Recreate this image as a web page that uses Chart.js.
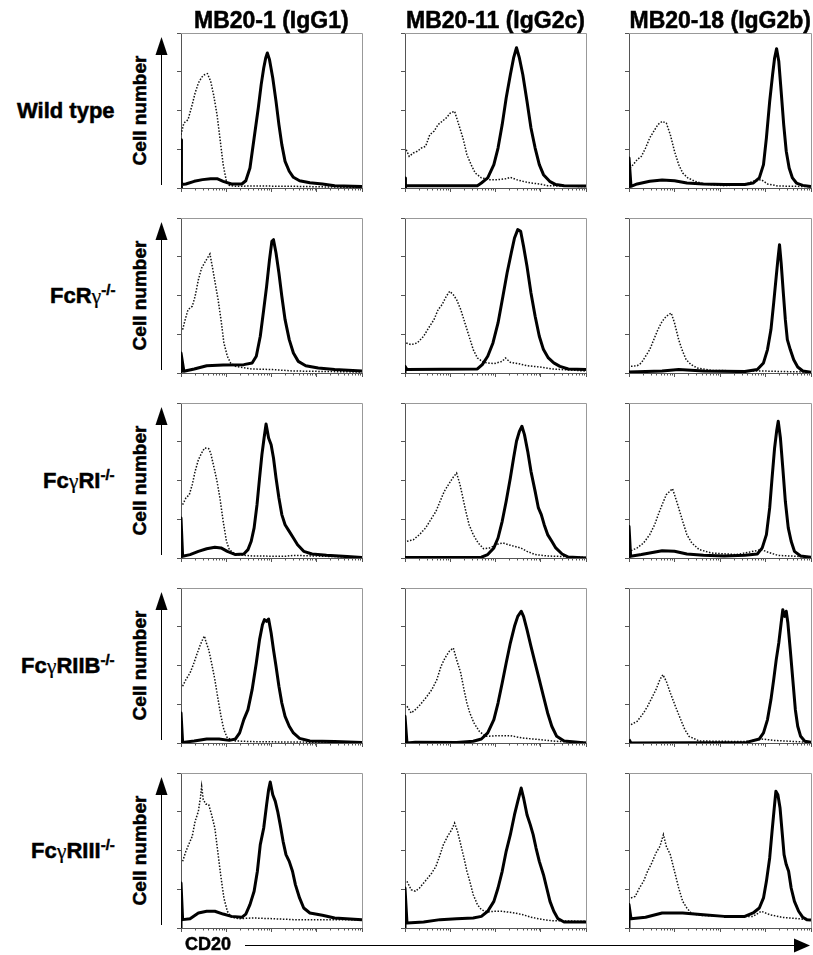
<!DOCTYPE html>
<html><head><meta charset="utf-8">
<script src="https://cdn.jsdelivr.net/npm/chart.js@4.4.1/dist/chart.umd.min.js"></script>
<style>
html,body{margin:0;padding:0;background:#fff;}
body{width:813px;height:955px;position:relative;overflow:hidden;font-family:"Liberation Sans",Arial,Helvetica,sans-serif;color:#000;}
.t{position:absolute;font-weight:700;white-space:nowrap;line-height:22px;font-size:22px;font-family:"Liberation Sans",Arial,sans-serif;-webkit-text-stroke:0.5px #000;}
.g{font-family:"Liberation Serif","DejaVu Serif",serif;font-weight:normal;font-size:22px;-webkit-text-stroke:0.2px #000;}
.sup{font-size:15px;position:relative;top:-8px;}
canvas{position:absolute;}
svg{position:absolute;left:0;top:0;}
</style></head><body>
<script>
// ---- categories / labels ----
const COLUMNS = ['MB20-1 (IgG1)', 'MB20-11 (IgG2c)', 'MB20-18 (IgG2b)'];
const ROWS = ['Wild type', 'FcRγ-/-', 'FcγRI-/-', 'FcγRIIB-/-', 'FcγRIII-/-'];
const Y_LABEL = 'Cell number';
const X_LABEL = 'CD20';
const X_TICKS = [0, 25, 50, 75, 100];   // log decades 10^0 .. 10^4 (CD20 fluorescence)
const Y_TICKS = [0, 25, 50, 75, 100];

// ---- series: [x (% of axis), y (% of max)] ----
// Wild type
const wt_igg1_iso = [[0,34.4],[1.6,41.9],[3.9,44.1],[6.2,53.8],[7.8,61.3],[9.6,67.7],[11.4,71.4],[13.0,73.1],[14.6,73.8],[16.4,68.8],[18.0,60.2],[19.9,47.3],[21.5,32.3],[23.3,15.1],[25.1,4.3],[26.7,1.7],[30.1,1.1],[39.3,1.3],[62.1,1.1],[84.9,0.6],[100,0.4]];
const wt_igg1_cd20 = [[0,0],[0,31.2],[0.5,2.2],[2.7,2.6],[7.3,4.3],[11.9,5.4],[16.4,6.0],[19.9,6.0],[23.3,4.3],[27.9,2.6],[33.6,2.6],[35.8,4.7],[38.1,12.9],[40.4,32.3],[42.7,51.6],[44.3,66.7],[45.7,77.4],[46.8,83.9],[47.7,87.1],[48.9,82.8],[50.7,71.0],[52.5,55.9],[54.1,40.9],[55.7,28.0],[57.5,17.2],[59.8,10.8],[62.1,6.9],[65.5,4.7],[71.2,3.4],[78.1,2.6],[84.9,1.5],[100,0.9]];
const wt_igg2c_iso = [[0.7,24.7],[2.3,20.4],[4.6,22.6],[6.8,23.7],[9.1,25.8],[11.4,26.9],[13.7,34.4],[16.0,36.6],[18.3,40.9],[20.5,43.0],[22.8,45.2],[25.1,48.4],[27.4,49.5],[29.7,40.9],[32.0,32.3],[34.2,21.5],[36.5,15.1],[38.8,9.7],[42.2,6.5],[46.8,5.4],[51.4,5.4],[55.9,6.0],[58.2,6.9],[61.6,5.4],[65.1,4.3],[69.6,3.2],[74.2,2.6],[78.8,1.5],[100,0.9]];
const wt_igg2c_cd20 = [[0,0],[0,6.5],[0.5,1.5],[40.0,1.5],[42.2,3.2],[45.7,6.5],[49.1,15.1],[51.4,25.8],[53.7,40.9],[55.9,58.1],[58.2,73.1],[60.0,83.9],[61.6,90.5],[63.2,83.9],[65.1,73.1],[67.4,55.9],[69.6,38.7],[71.9,25.8],[74.2,15.1],[76.5,8.6],[79.9,4.3],[83.3,2.2],[87.9,1.5],[100,1.3]];
const wt_igg2b_iso = [[0.5,12.9],[2.3,15.1],[4.5,18.3],[6.8,20.4],[9.1,25.8],[11.4,32.3],[13.6,36.6],[15.9,40.9],[18.2,43.0],[20.5,41.9],[22.7,34.4],[25.0,23.7],[27.3,15.1],[29.5,9.7],[32.3,6.5],[36.4,4.3],[40.9,2.6],[52.3,1.5],[63.6,2.2],[68.2,4.3],[72.7,5.4],[76.1,2.6],[81.8,1.3],[100,0.9]];
const wt_igg2b_cd20 = [[0,0],[0,19.4],[1.1,1.1],[4.5,2.6],[11.4,4.3],[18.2,5.2],[25.0,4.7],[31.8,3.2],[40.9,2.6],[52.3,2.2],[63.6,2.2],[68.2,3.2],[71.6,6.5],[73.9,15.1],[75.5,32.3],[77.3,55.9],[78.9,73.1],[80.0,83.9],[81.1,89.9],[82.3,81.7],[83.6,62.4],[85.0,40.9],[86.4,23.7],[88.0,12.9],[89.8,6.5],[92.0,3.2],[95.5,1.7],[100,0.9]];
// FcRγ-/-
const fcrg_igg1_iso = [[0.9,28.0],[2.3,34.4],[3.9,40.9],[6.2,43.0],[7.8,49.5],[9.6,60.2],[11.4,67.7],[13.0,71.0],[14.6,74.2],[16.0,76.8],[17.6,66.7],[19.2,55.9],[20.5,47.3],[22.1,34.4],[23.7,19.4],[25.6,10.8],[27.4,6.5],[30.1,4.3],[39.3,2.6],[50.7,2.2],[62.1,1.3],[100,0.6]];
const fcrg_igg1_cd20 = [[0,0],[0,12.9],[1.6,1.1],[7.3,2.6],[14.2,4.7],[23.3,5.2],[34.7,5.4],[39.3,6.5],[41.6,10.8],[43.8,23.7],[45.7,40.9],[47.3,55.9],[48.9,73.1],[50.2,84.9],[51.1,86.0],[52.5,77.4],[54.1,64.5],[55.7,49.5],[57.5,34.4],[59.8,21.5],[62.1,12.9],[64.8,7.5],[68.9,4.7],[75.8,3.2],[84.9,2.2],[100,1.3]];
const fcrg_igg2c_iso = [[0.7,19.4],[3.4,18.3],[6.8,19.4],[10.3,23.7],[13.0,29.0],[16.0,34.4],[18.3,40.9],[20.5,44.1],[22.8,49.5],[24.7,52.7],[26.7,50.5],[28.5,47.3],[30.8,40.9],[33.1,32.3],[35.4,23.7],[37.7,15.1],[40.0,9.7],[43.4,6.9],[49.1,6.0],[53.7,7.5],[55.5,9.7],[58.2,6.9],[62.8,6.0],[67.4,4.7],[74.2,3.9],[81.1,2.6],[100,1.3]];
const fcrg_igg2c_cd20 = [[0,0],[0,4.3],[1.1,2.2],[40.0,2.6],[42.7,5.4],[45.7,10.8],[48.6,19.4],[51.4,32.3],[54.1,49.5],[56.4,64.5],[58.7,77.4],[60.5,87.1],[62.3,92.5],[63.9,91.4],[65.5,81.7],[67.4,68.8],[69.6,51.6],[71.9,36.6],[74.2,23.7],[76.5,15.1],[79.2,9.7],[82.2,6.5],[85.6,4.3],[90.2,2.6],[100,2.2]];
const fcrg_igg2b_iso = [[1.1,4.3],[4.5,4.7],[6.8,6.5],[9.1,10.8],[11.4,15.1],[13.6,21.5],[15.9,28.0],[18.2,33.3],[20.5,36.6],[23.2,38.7],[25.0,32.3],[27.3,21.5],[29.1,15.1],[31.4,8.6],[34.1,5.4],[37.5,3.2],[45.5,1.7],[63.6,1.3],[72.7,1.3],[86.4,0.9],[100,0.6]];
const fcrg_igg2b_cd20 = [[0,0.6],[18.2,1.3],[27.3,2.2],[40.9,1.3],[63.6,0.9],[70.5,2.2],[73.9,6.5],[76.1,15.1],[78.0,28.0],[79.5,45.2],[80.9,62.4],[81.8,73.1],[82.7,82.8],[83.6,71.0],[84.8,51.6],[85.9,34.4],[87.0,21.5],[88.6,15.1],[90.5,8.6],[92.7,3.9],[95.5,1.3],[100,0.4]];
// FcγRI-/-
const fcgr1_igg1_iso = [[0.9,34.4],[2.7,38.7],[4.6,40.9],[6.2,47.3],[7.8,55.9],[9.6,63.4],[11.4,67.7],[13.0,71.0],[15.3,70.5],[16.4,67.7],[18.3,58.1],[19.9,49.5],[21.5,38.7],[23.3,23.7],[25.1,10.8],[26.7,5.4],[30.1,2.2],[39.3,1.3],[57.5,1.1],[62.1,1.7],[73.5,1.3],[100,0.4]];
const fcgr1_igg1_cd20 = [[0,0],[0,25.8],[0.9,1.1],[5.0,2.2],[9.6,4.3],[14.2,6.0],[18.7,6.9],[22.1,6.5],[25.6,4.3],[30.1,2.2],[34.7,2.6],[37.0,5.4],[38.8,10.8],[40.4,19.4],[42.0,34.4],[43.4,51.6],[44.7,66.7],[45.9,77.4],[47.0,86.5],[48.4,77.4],[49.8,73.1],[51.1,64.5],[52.5,51.6],[54.1,38.7],[55.7,28.0],[57.5,21.5],[59.8,17.2],[62.1,12.9],[64.4,8.6],[67.8,4.3],[72.4,2.6],[80.4,1.7],[91.8,0.9],[100,0.4]];
const fcgr1_igg2c_iso = [[1.1,10.8],[4.6,11.8],[8.0,15.1],[11.4,19.4],[14.8,25.8],[17.1,30.1],[19.4,36.6],[21.7,43.0],[24.0,47.3],[26.3,51.6],[28.5,54.8],[30.4,47.3],[32.0,38.7],[33.6,30.1],[35.4,21.5],[37.7,15.1],[40.4,9.7],[43.4,6.0],[46.8,6.5],[51.4,9.0],[54.1,9.7],[57.1,8.6],[60.5,7.5],[63.9,6.5],[67.4,4.3],[71.9,2.2],[78.8,1.3],[100,0.4]];
const fcgr1_igg2c_cd20 = [[0,0.3],[42.2,0.5],[45.7,2.2],[49.1,6.5],[51.4,12.9],[53.7,23.7],[55.9,36.6],[58.2,51.6],[60.0,64.5],[61.6,75.3],[63.2,81.7],[64.6,85.0],[66.0,79.6],[67.8,68.8],[69.6,55.9],[71.9,43.0],[73.7,32.3],[75.3,28.0],[76.9,21.5],[78.8,15.1],[81.1,10.8],[83.3,6.5],[86.8,2.6],[90.2,0.6],[100,0]];
const fcgr1_igg2b_iso = [[1.1,4.7],[4.5,6.5],[8.0,9.7],[11.4,15.1],[14.1,21.5],[16.4,29.0],[18.2,34.4],[20.5,40.9],[23.9,44.7],[25.0,40.9],[27.3,32.3],[29.5,23.7],[31.8,15.1],[34.5,9.7],[38.6,5.4],[45.5,3.2],[59.1,2.2],[68.2,4.3],[72.7,5.4],[76.1,3.9],[81.8,1.7],[100,0.6]];
const fcgr1_igg2b_cd20 = [[0,0],[0,20.4],[0.9,1.1],[6.8,2.2],[18.2,4.7],[25.0,4.3],[31.8,2.6],[40.9,1.7],[52.3,1.3],[63.6,1.7],[70.5,2.6],[73.2,6.5],[75.5,15.1],[77.3,32.3],[78.6,51.6],[80.0,71.0],[81.1,81.7],[82.0,88.2],[83.2,77.4],[84.5,58.1],[85.9,36.6],[87.5,19.4],[89.1,10.8],[90.9,4.3],[94.3,1.3],[100,0.4]];
// FcγRIIB-/-
const fcgr2b_igg1_iso = [[0.9,36.6],[2.7,40.9],[5.0,45.2],[6.8,50.5],[8.7,57.0],[10.7,63.4],[12.3,67.7],[13.0,69.0],[13.7,65.6],[15.3,60.2],[16.9,51.6],[18.7,40.9],[20.5,28.0],[22.1,17.2],[23.7,8.6],[25.6,3.2],[30.1,1.3],[39.3,0.9],[62.1,0.6],[100,0.4]];
const fcgr2b_igg1_cd20 = [[0,0],[0,19.4],[0.9,0.4],[7.3,1.3],[14.2,2.6],[21.0,2.6],[26.7,1.7],[30.1,2.6],[32.4,6.5],[34.7,15.1],[37.0,21.5],[39.3,34.4],[41.6,51.6],[43.4,66.7],[45.0,76.3],[46.1,79.6],[47.3,78.5],[48.4,80.0],[49.8,71.0],[51.1,60.2],[52.5,49.5],[54.1,36.6],[55.7,25.8],[57.5,17.2],[59.8,10.8],[62.1,6.5],[65.5,3.0],[71.2,1.3],[84.9,0.9],[100,0.4]];
const fcgr2b_igg2c_iso = [[1.1,23.7],[3.4,19.4],[5.7,21.5],[8.4,24.7],[11.4,29.0],[14.8,34.4],[17.6,40.9],[19.9,49.5],[22.1,54.8],[24.4,59.1],[26.7,61.3],[28.5,53.8],[30.8,45.2],[32.6,34.4],[34.2,25.8],[35.8,19.4],[38.1,12.9],[41.1,7.5],[44.5,4.3],[51.4,4.7],[58.2,4.7],[65.1,3.2],[74.2,2.2],[83.3,1.1],[100,0.4]];
const fcgr2b_igg2c_cd20 = [[0,0],[0,17.2],[1.1,0],[5.7,0.5],[28.5,0.4],[37.7,1.1],[42.2,2.6],[45.7,6.5],[49.1,15.1],[51.4,25.8],[53.7,38.7],[55.9,51.6],[58.2,64.5],[60.5,75.3],[62.3,81.7],[64.2,85.0],[65.5,81.7],[67.4,73.1],[69.6,62.4],[71.9,51.6],[74.2,40.9],[76.5,30.1],[78.8,19.4],[81.1,10.8],[83.8,4.3],[87.9,1.3],[100,0]];
const fcgr2b_igg2b_iso = [[1.1,11.8],[4.5,14.0],[8.0,19.4],[10.2,23.7],[12.5,29.0],[14.8,34.4],[17.0,40.9],[18.6,44.1],[20.5,39.8],[22.7,32.3],[25.5,23.7],[28.4,15.1],[30.7,8.6],[33.0,4.3],[38.6,1.3],[63.6,0.9],[72.7,2.6],[79.5,1.7],[100,0.4]];
const fcgr2b_igg2b_cd20 = [[0,2.2],[1.1,0],[64.5,0.4],[71.6,2.6],[73.9,6.5],[76.1,15.1],[78.0,28.0],[79.5,40.9],[80.9,53.8],[82.3,64.5],[83.6,77.4],[84.5,86.0],[85.5,81.7],[86.4,85.0],[87.3,77.4],[88.6,60.2],[90.0,40.9],[91.4,21.5],[92.7,10.8],[94.3,4.3],[96.6,1.1],[100,0.4]];
// FcγRIII-/-
const fcgr3_igg1_iso = [[0.9,43.0],[2.7,49.5],[4.6,54.8],[6.2,59.1],[7.8,68.8],[9.6,75.3],[10.7,83.9],[11.4,91.4],[12.3,82.8],[13.7,80.0],[15.3,79.6],[16.9,73.1],[18.7,64.5],[20.3,49.5],[21.9,34.4],[23.7,19.4],[25.6,10.8],[27.9,6.9],[32.4,6.0],[39.3,6.5],[50.7,6.0],[62.1,5.4],[73.5,5.4],[100,5.2]];
const fcgr3_igg1_cd20 = [[0,0],[0,29.0],[0.9,5.4],[5.0,6.0],[9.6,9.7],[14.2,10.8],[18.7,10.8],[23.3,9.0],[27.9,7.5],[33.6,6.9],[35.8,9.0],[38.1,15.1],[40.4,23.7],[42.2,36.6],[43.8,53.8],[45.7,64.5],[47.3,79.6],[48.4,89.2],[49.3,94.2],[50.7,86.0],[52.1,81.7],[53.4,75.3],[54.8,66.7],[56.4,55.9],[58.0,47.3],[59.8,43.0],[61.6,36.6],[63.2,28.0],[65.5,19.4],[67.8,12.9],[71.2,9.7],[78.1,8.2],[84.9,6.5],[100,5.4]];
const fcgr3_igg2c_iso = [[1.1,30.1],[3.4,24.7],[5.7,23.7],[8.0,25.8],[10.3,29.0],[12.6,32.3],[14.8,35.5],[17.1,39.8],[19.4,47.3],[21.2,53.8],[23.5,59.1],[25.8,63.4],[27.4,67.7],[29.0,62.4],[30.8,53.8],[32.6,45.2],[34.2,36.6],[35.8,30.1],[37.7,21.5],[40.0,15.1],[42.2,11.8],[45.7,10.3],[49.1,10.8],[53.7,10.8],[60.5,9.7],[65.1,8.6],[69.6,6.9],[76.5,5.4],[81.1,4.7],[100,4.3]];
const fcgr3_igg2c_cd20 = [[0,0],[0,25.8],[1.1,3.2],[10.3,3.9],[19.4,5.4],[28.5,6.0],[37.7,6.5],[42.2,7.5],[45.7,10.8],[49.1,17.2],[51.4,25.8],[53.7,36.6],[55.9,49.5],[58.2,60.2],[60.5,73.1],[62.3,81.7],[64.2,90.3],[65.5,84.0],[67.4,73.1],[69.2,66.7],[70.8,60.2],[72.4,51.6],[74.2,43.0],[76.5,34.4],[78.3,25.8],[80.1,17.2],[82.2,10.8],[84.5,6.0],[87.9,3.9],[100,3.9]];
const fcgr3_igg2b_iso = [[1.1,19.4],[3.4,20.4],[5.7,25.8],[8.0,30.1],[10.2,36.6],[12.5,41.9],[14.8,48.4],[17.0,52.7],[18.9,60.2],[20.5,52.7],[22.7,47.3],[25.0,36.6],[27.3,25.8],[29.5,17.2],[31.8,12.9],[34.1,9.7],[38.6,8.2],[52.3,7.5],[68.2,7.5],[72.7,10.8],[77.3,8.6],[84.1,6.9],[93.2,6.0],[100,5.2]];
const fcgr3_igg2b_cd20 = [[0,0],[0,15.1],[1.1,6.0],[9.1,6.9],[18.2,9.7],[29.5,9.7],[40.9,8.6],[52.3,7.5],[63.6,7.5],[68.2,9.7],[71.6,12.9],[73.9,19.4],[75.5,30.1],[77.3,45.2],[78.6,62.4],[79.8,77.4],[80.7,88.2],[81.8,86.0],[83.0,77.4],[84.1,62.4],[85.2,47.3],[86.4,40.9],[87.7,36.6],[89.1,25.8],[90.9,17.2],[93.2,10.8],[95.5,6.9],[97.7,5.4],[100,5.2]];

const ISO = [
  [wt_igg1_iso, wt_igg2c_iso, wt_igg2b_iso],
  [fcrg_igg1_iso, fcrg_igg2c_iso, fcrg_igg2b_iso],
  [fcgr1_igg1_iso, fcgr1_igg2c_iso, fcgr1_igg2b_iso],
  [fcgr2b_igg1_iso, fcgr2b_igg2c_iso, fcgr2b_igg2b_iso],
  [fcgr3_igg1_iso, fcgr3_igg2c_iso, fcgr3_igg2b_iso]];
const CD20 = [
  [wt_igg1_cd20, wt_igg2c_cd20, wt_igg2b_cd20],
  [fcrg_igg1_cd20, fcrg_igg2c_cd20, fcrg_igg2b_cd20],
  [fcgr1_igg1_cd20, fcgr1_igg2c_cd20, fcgr1_igg2b_cd20],
  [fcgr2b_igg1_cd20, fcgr2b_igg2c_cd20, fcgr2b_igg2b_cd20],
  [fcgr3_igg1_cd20, fcgr3_igg2c_cd20, fcgr3_igg2b_cd20]];

// ---- layout (pixels) ----
const COL_LEFT = [181, 405, 629];
const COL_W = [181, 181, 182];
const ROW_TOP = [33, 218, 403, 588, 773];
const PANEL_H = 155;
const AXIS_DARK = '#555', AXIS_LIGHT = '#999';

// minor tick positions on the 4-decade log axis
const MINOR = [];
for (let d = 0; d < 4; d++) for (let k = 2; k <= 9; k++) MINOR.push(25 * (d + Math.log10(k)));

const framePlugin = {
  id: 'frame',
  beforeDatasetsDraw(chart) {
    const {ctx, chartArea: a} = chart;
    ctx.save();
    ctx.strokeStyle = AXIS_LIGHT; ctx.lineWidth = 1;
    ctx.beginPath();
    ctx.moveTo(a.left, a.top + 0.5); ctx.lineTo(a.right + 0.5, a.top + 0.5);
    ctx.lineTo(a.right + 0.5, a.bottom);
    ctx.stroke();
    const xs = chart.scales.x;
    ctx.strokeStyle = AXIS_DARK;
    ctx.beginPath();
    MINOR.forEach(v => {
      const px = Math.round(xs.getPixelForValue(v)) + 0.5;
      ctx.moveTo(px, a.bottom); ctx.lineTo(px, a.bottom + 2.5);
    });
    ctx.stroke();
    ctx.restore();
  }
};

const toXY = arr => arr.map(p => ({x: p[0], y: p[1]}));

function makePanel(r, c) {
  const W = COL_W[c], H = PANEL_H;
  const cv = document.createElement('canvas');
  cv.width = W + 12; cv.height = H + 12;
  cv.style.left = (COL_LEFT[c] - 8) + 'px';
  cv.style.top = (ROW_TOP[r] - 4) + 'px';
  cv.style.width = (W + 12) + 'px';
  cv.style.height = (H + 12) + 'px';
  document.body.appendChild(cv);
  new Chart(cv, {
    type: 'line',
    data: { datasets: [
      { label: 'CD20', data: toXY(CD20[r][c]), borderColor: '#000', borderWidth: 3,
        pointRadius: 0, tension: 0, order: 0, borderJoinStyle: 'round' },
      { label: 'control', data: toXY(ISO[r][c]), borderColor: '#111', borderWidth: 1.5,
        borderDash: [1.5, 1.6], pointRadius: 0, tension: 0, order: 1 }
    ]},
    options: {
      responsive: false, animation: false, devicePixelRatio: 1, events: [],
      layout: { padding: { top: 4, right: 4, left: 0, bottom: 0 } },
      plugins: { legend: { display: false }, tooltip: { enabled: false }, title: { display: false } },
      scales: {
        x: { type: 'linear', min: 0, max: 100,
          afterBuildTicks: s => { s.ticks = X_TICKS.map(v => ({value: v})); },
          afterFit: s => { s.height = 8; },
          ticks: { display: false },
          grid: { drawOnChartArea: false, drawTicks: true, tickLength: 4, color: AXIS_DARK, tickWidth: 1 },
          border: { display: true, color: AXIS_DARK, width: 1 } },
        y: { type: 'linear', min: 0, max: 100,
          afterBuildTicks: s => { s.ticks = Y_TICKS.map(v => ({value: v})); },
          afterFit: s => { s.width = 8; },
          ticks: { display: false },
          grid: { drawOnChartArea: false, drawTicks: true, tickLength: 4, color: AXIS_DARK, tickWidth: 1 },
          border: { display: true, color: AXIS_DARK, width: 1 } }
      }
    },
    plugins: [framePlugin]
  });
}

for (let r = 0; r < ROWS.length; r++) for (let c = 0; c < COLUMNS.length; c++) makePanel(r, c);

// ---- text ----
function addText(html, css) {
  const d = document.createElement('div');
  d.className = 't';
  d.innerHTML = html;
  Object.assign(d.style, css);
  document.body.appendChild(d);
  return d;
}
COLUMNS.forEach((t, c) => {
  const d = addText(t, {top: '9px', fontSize: '23px', lineHeight: '23px', fontWeight: '700'});
  const cx = COL_LEFT[c] + COL_W[c] / 2;
  d.style.left = (cx - d.offsetWidth / 2) + 'px';
});
function fmtRow(s) {
  let sup = '';
  if (s.endsWith('-/-')) { sup = '<span class="sup">-/-</span>'; s = s.slice(0, -3); }
  return s.replace('γ', '<span class="g">γ</span>') + sup;
}
ROWS.forEach((t, r) => {
  const cy = ROW_TOP[r] + PANEL_H / 2;
  const d = addText(fmtRow(t), {top: (cy + 7.5 - 18.3) + 'px', fontWeight: '700'});
  d.style.left = (115 - d.offsetWidth) + 'px';
  const y = addText(Y_LABEL, {fontSize: '19px', lineHeight: '19px', fontWeight: '700'});
  y.style.left = (140 - y.offsetWidth / 2) + 'px';
  y.style.top = (cy - y.offsetHeight / 2) + 'px';
  y.style.transform = 'rotate(-90deg)';
});
addText(X_LABEL, {fontSize: '18px', lineHeight: '18px', left: '185px', top: '935px', fontWeight: '700'});

// ---- arrows ----
const NS = 'http://www.w3.org/2000/svg';
const svg = document.createElementNS(NS, 'svg');
svg.setAttribute('width', 813); svg.setAttribute('height', 955);
function el(name, attrs) { const e = document.createElementNS(NS, name); for (const k in attrs) e.setAttribute(k, attrs[k]); svg.appendChild(e); }
ROW_TOP.forEach(t => {
  el('line', {x1: 161.5, y1: t + 20, x2: 161.5, y2: t + 152, stroke: '#000', 'stroke-width': 1});
  el('polygon', {points: `161.5,${t + 4} 155.5,${t + 22} 167.5,${t + 22}`, fill: '#000'});
});
el('line', {x1: 245, y1: 945.5, x2: 797, y2: 945.5, stroke: '#000', 'stroke-width': 1});
el('polygon', {points: '794,938.5 794,952.5 810,945.5', fill: '#000'});
document.body.appendChild(svg);
</script>
</body></html>
